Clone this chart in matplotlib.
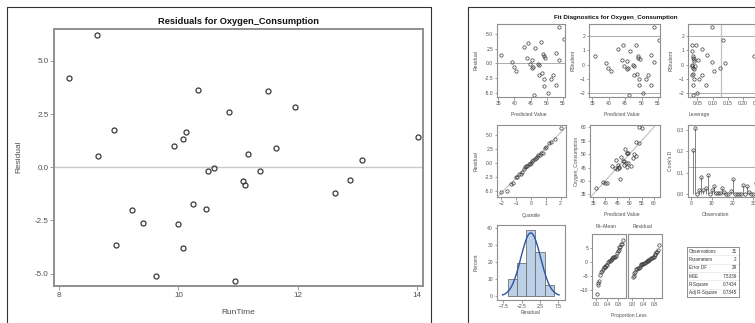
import matplotlib
matplotlib.use("Agg")
import matplotlib.pyplot as plt
import numpy as np
from statistics import NormalDist

plt.rcParams['font.family'] = ['Liberation Sans', 'DejaVu Sans']

# fitness data, sorted by RunTime (as in the output)
run_time = [8.17, 8.63, 8.65, 8.92, 8.95, 9.22, 9.40, 9.63, 9.93, 10.00,
            10.07, 10.08, 10.13, 10.25, 10.33, 10.47, 10.50, 10.60, 10.85, 10.95,
            11.08, 11.12, 11.17, 11.37, 11.50, 11.63, 11.95, 12.63, 12.88, 13.08,
            14.03]
oxygen = [59.571, 60.055, 54.297, 54.625, 49.156, 49.874, 48.673, 45.441, 50.545, 46.672,
          45.313, 50.388, 50.541, 46.774, 51.855, 45.790, 47.467, 47.273, 49.091, 40.836,
          45.118, 44.754, 46.080, 44.609, 47.920, 44.811, 45.681, 39.407, 39.203, 39.442,
          37.388]

# fit statistics table
stat_names = ["Observations", "Parameters", "Error DF", "MSE", "R-Square", "Adj R-Square"]
stat_values = ["31", "2", "29", "7.5339", "0.7434", "0.7345"]

# regression diagnostics
x = np.array(run_time)
y = np.array(oxygen)
n, p = len(x), 2
b1, b0 = np.polyfit(x, y, 1)
pred = b0 + b1 * x
resid = y - pred
mse = (resid ** 2).sum() / (n - p)
lev = 1 / n + (x - x.mean()) ** 2 / ((x - x.mean()) ** 2).sum()
s_del = np.sqrt(((n - p) * mse - resid ** 2 / (1 - lev)) / (n - p - 1))
rstud = resid / (s_del * np.sqrt(1 - lev))
cooks = resid ** 2 / (p * mse) * lev / (1 - lev) ** 2
nd = NormalDist()
quant = np.array([nd.inv_cdf((i - 0.375) / (n + 0.25)) for i in range(1, n + 1)])
prop = (np.arange(1, n + 1) - 0.5) / n

W, H = 755, 323
fig = plt.figure(figsize=(W / 100, H / 100), dpi=100)
FRAME = '#8f8f8f'
TXT = '#505050'
MK = '#3a3a3a'


def px_axes(l, t, r, b):
    return fig.add_axes([l / W, 1 - b / H, (r - l) / W, (b - t) / H])


def style(ax, fs, tl, lw):
    for s in ax.spines.values():
        s.set_color(FRAME)
        s.set_linewidth(lw)
    ax.tick_params(direction='out', length=tl, width=0.6, color=FRAME,
                   labelsize=fs, labelcolor=TXT, pad=1)


def ftext(px, py, s, **kw):
    fig.text(px / W, 1 - py / H, s, ha='center', va='center', color=TXT, **kw)


# screenshot borders
bg = fig.add_axes([0, 0, 1, 1])
bg.set_xlim(0, W)
bg.set_ylim(H, 0)
bg.axis('off')
bg.plot([7, 7, 431, 431], [330, 7, 7, 330], color='#333333', lw=0.8)
bg.plot([468, 468, 760], [330, 7, 7], color='#333333', lw=0.8)

# ---- left: residuals vs RunTime ----
ax = px_axes(54, 29, 423, 286)
ax.axhline(0, color='#c8c8c8', lw=1)
ax.plot(x, resid, 'o', ms=3.6, mfc='none', mec=MK, mew=0.9)
ax.set_xlim(7.911, 14.106)
ax.set_ylim(-5.58, 6.50)
ax.set_xticks([8, 10, 12, 14])
ax.set_yticks([-5, -2.5, 0, 2.5, 5])
ax.set_yticklabels(['-5.0', '-2.5', '0.0', '2.5', '5.0'])
style(ax, 5.8, 3, 1.4)
fig.text(239 / W, 1 - 21 / H, 'Residuals for Oxygen_Consumption', ha='center', va='center',
         fontsize=6.7, weight='bold', color='#111111')
ftext(19, 157, 'Residual', fontsize=6, rotation=90)
ftext(238, 312, 'RunTime', fontsize=6)

# ---- right: fit diagnostics panel ----
FS = 3.6
ms_small = dict(ms=2.4, mfc='none', mec=MK, mew=0.5, ls='none', marker='o')
fig.text(616 / W, 1 - 17 / H, 'Fit Diagnostics for Oxygen_Consumption', ha='center', va='center',
         fontsize=4.5, weight='bold', color='#111111')

# residual vs predicted
a1 = px_axes(497, 24, 565, 97)
a1.axhline(0, color='#a0a0a0', lw=0.6)
a1.plot(pred, resid, **ms_small)
a1.set_xlim(34.6, 55.7)
a1.set_ylim(-5.74, 6.76)
a1.set_xticks([35, 40, 45, 50, 55])
a1.set_yticks([-5, -2.5, 0, 2.5, 5])
a1.set_yticklabels(['-5.0', '-2.5', '0.0', '2.5', '5.0'])
style(a1, FS, 1.8, 0.8)
ftext(476, 60, 'Residual', fontsize=FS, rotation=90)
ftext(529, 114, 'Predicted Value', fontsize=FS)

# rstudent vs predicted
a2 = px_axes(589, 24, 660, 97)
for v in (-2, 2):
    a2.axhline(v, color='#a0a0a0', lw=0.6)
a2.plot(pred, rstud, **ms_small)
a2.set_xlim(34.0, 55.6)
a2.set_ylim(-2.26, 2.84)
a2.set_xticks([35, 40, 45, 50, 55])
a2.set_yticks([-2, -1, 0, 1, 2])
style(a2, FS, 1.8, 0.8)
ftext(573, 60, 'RStudent', fontsize=FS, rotation=90)
ftext(622, 114, 'Predicted Value', fontsize=FS)

# rstudent vs leverage
a3 = px_axes(688, 24, 758, 97)
for v in (-2, 2):
    a3.axhline(v, color='#a0a0a0', lw=0.6)
a3.axvline(2 * p / n, color='#c0c0c0', lw=0.9)
a3.plot(lev, rstud, **ms_small)
a3.set_xlim(0.0188, 0.249)
a3.set_xticks([0.05, 0.10, 0.15, 0.20, 0.25])
a3.set_xticklabels(['0.05', '0.10', '0.15', '0.20', '0.25'])
a3.set_ylim(-2.26, 2.84)
a3.set_yticks([-2, -1, 0, 1, 2])
style(a3, FS, 1.8, 0.8)
ftext(671, 60, 'RStudent', fontsize=FS, rotation=90)
ftext(699, 114, 'Leverage', fontsize=FS)

# qq plot of residuals
b1a = px_axes(497, 125, 566, 197)
qx = np.array([-2.3, 2.37])
b1a.plot(qx, resid.std(ddof=1) * qx, color='#b8b8b8', lw=0.7)
b1a.plot(quant, np.sort(resid), **ms_small)
b1a.set_xlim(-2.3, 2.37)
b1a.set_ylim(-6.16, 6.77)
b1a.set_xticks([-2, -1, 0, 1, 2])
b1a.set_yticks([-5, -2.5, 0, 2.5, 5])
b1a.set_yticklabels(['-5.0', '-2.5', '0.0', '2.5', '5.0'])
style(b1a, FS, 1.8, 0.8)
ftext(476, 161, 'Residual', fontsize=FS, rotation=90)
ftext(531, 215, 'Quantile', fontsize=FS)

# observed vs predicted
b2 = px_axes(590, 125, 660, 197)
b2.plot([30, 65], [30, 65], color='#b8b8b8', lw=0.7)
b2.plot(pred, y, **ms_small)
b2.set_xlim(33.7, 62.6)
b2.set_ylim(34.0, 60.86)
b2.set_xticks([35, 40, 45, 50, 55, 60])
b2.set_yticks([35, 40, 45, 50, 55, 60])
style(b2, FS, 1.8, 0.8)
ftext(576, 161, 'Oxygen_Consumption', fontsize=FS, rotation=90)
ftext(622, 215, 'Predicted Value', fontsize=FS)

# cook's d
b3 = px_axes(688, 125, 758, 197)
obs = np.arange(1, n + 1)
b3.axhline(4 / n, color='#a0a0a0', lw=0.6)
b3.vlines(obs, 0, cooks, color='#707070', lw=0.6)
b3.plot(obs, cooks, **ms_small)
b3.set_xlim(-1.44, 32.2)
b3.set_ylim(-0.0126, 0.323)
b3.set_xticks([0, 10, 20, 30])
b3.set_yticks([0, 0.1, 0.2, 0.3])
b3.set_yticklabels(['0.0', '0.1', '0.2', '0.3'])
style(b3, FS, 1.8, 0.8)
ftext(671, 161, "Cook's D", fontsize=FS, rotation=90)
ftext(716, 215, 'Observation', fontsize=FS)

# histogram of residuals
c1 = px_axes(497, 225, 565, 300)
edges = np.arange(-6.25, 6.26, 2.5)
c1.hist(resid, bins=edges, weights=np.full(n, 100 / n), color='#bcd0e8', edgecolor='#6f6f6f', lw=0.6)
sd = resid.std(ddof=1)
gx = np.linspace(-7.7, 7.7, 200)
c1.plot(gx, 100 * 2.5 * np.exp(-0.5 * (gx / sd) ** 2) / (sd * np.sqrt(2 * np.pi)), color='#2a55a0', lw=1.0)
c1.set_xlim(-9.2, 9.33)
c1.set_ylim(-2.34, 41.6)
c1.set_xticks([-7.5, -2.5, 2.5, 7.5])
c1.set_yticks([0, 10, 20, 30, 40])
style(c1, FS, 1.8, 0.8)
ftext(476, 262, 'Percent', fontsize=FS, rotation=90)
ftext(531, 313, 'Residual', fontsize=FS)

# residual-fit spread
c2a = px_axes(592, 234, 626, 298)
c2b = px_axes(628, 234, 662, 298)
c2a.plot(prop, np.sort(pred - y.mean()), **ms_small)
c2b.plot(prop, np.sort(resid), **ms_small)
for a in (c2a, c2b):
    a.set_xlim(-0.16, 1.1)
    a.set_ylim(-12.9, 10.1)
    a.set_xticks([0.0, 0.4, 0.8])
    a.set_xticklabels(['0.0', '0.4', '0.8'])
    a.set_yticks([-10, -5, 0, 5])
    style(a, FS, 1.8, 0.8)
c2b.tick_params(axis='y', left=False, labelleft=False)
ftext(606, 226, 'Fit\u2013Mean', fontsize=FS)
ftext(643, 226, 'Residual', fontsize=FS)
ftext(629, 315, 'Proportion Less', fontsize=FS)

# stats table
tb = px_axes(687, 247, 739, 297)
tb.set_xlim(0, 1)
tb.set_ylim(len(stat_names), 0)
tb.set_xticks([])
tb.set_yticks([])
for s in tb.spines.values():
    s.set_color('#8f8f8f')
    s.set_linewidth(0.7)
for i, (nm, val) in enumerate(zip(stat_names, stat_values)):
    tb.text(0.04, i + 0.5, nm, fontsize=3.3, va='center', ha='left', color='#333333')
    tb.text(0.96, i + 0.5, val, fontsize=3.3, va='center', ha='right', color='#333333')
    if i > 0:
        tb.axhline(i, color='#e0e0e0', lw=0.4)

fig.savefig('out.png', dpi=100)
